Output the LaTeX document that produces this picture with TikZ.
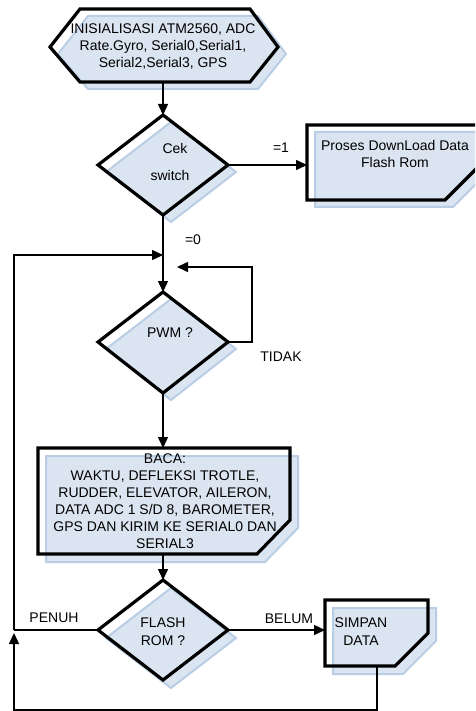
\documentclass[tikz,border=0pt]{standalone}
\usepackage{fontspec}
\setmainfont{Liberation Sans}
\usetikzlibrary{arrows.meta}
\definecolor{boxfill}{HTML}{DBE5F1}
\definecolor{shadowline}{HTML}{B9CDE5}
\begin{document}
\begin{tikzpicture}[x=1pt,y=-1pt,
  outl/.style={draw=black,line width=3.2pt,line join=miter},
  shd/.style={fill=boxfill,draw=shadowline,line width=2pt},
  conn/.style={draw=black,line width=1.5pt},
  arr/.style={conn,-{Triangle[length=11pt,width=10pt]}},
  lbl/.style={font=\fontsize{14}{17}\selectfont,inner sep=0pt,align=center},
]
\useasboundingbox (0,0) rectangle (475,711);
\clip (0,0) rectangle (475,711);
% shadows
\path[shd] (58,54) -- (88,16) -- (258,16) -- (286,54) -- (258,89) -- (88,89) -- cycle;
\path[shd] (106,172) -- (171,122) -- (236,172) -- (171,222) -- cycle;
\path[shd] (315,132) -- (488,132) -- (488,172) -- (453,207) -- (315,207) -- cycle;
\path[shd] (106,349) -- (171,299) -- (236,349) -- (171,400) -- cycle;
\path[shd] (46,456) -- (298,456) -- (298,528) -- (265,562) -- (46,562) -- cycle;
\path[shd] (106,638) -- (171,588) -- (236,638) -- (171,688) -- cycle;
\path[shd] (333,608) -- (436,608) -- (436,641) -- (403,674) -- (333,674) -- cycle;
% outlines
\path[outl] (50,47) -- (80,9) -- (250,9) -- (278,47) -- (250,82) -- (80,82) -- cycle;
\path[outl] (98,165) -- (163,115) -- (228,165) -- (163,215) -- cycle;
\path[outl] (307,125) -- (480,125) -- (480,165) -- (445,200) -- (307,200) -- cycle;
\path[outl] (98,342) -- (163,292) -- (228,342) -- (163,393) -- cycle;
\path[outl] (38,448) -- (290,448) -- (290,520) -- (257,554) -- (38,554) -- cycle;
\path[outl] (98,630) -- (163,580) -- (228,630) -- (163,680) -- cycle;
\path[outl] (325,600) -- (428,600) -- (428,633) -- (395,666) -- (325,666) -- cycle;
% anchor coordinates
\coordinate (hexB) at (163,82);
\coordinate (cekT) at (163,115);
\coordinate (cekR) at (228,165);
\coordinate (cekB) at (163,215);
\coordinate (procL) at (307,165);
\coordinate (pwmT) at (163,292);
\coordinate (pwmR) at (228,342);
\coordinate (pwmB) at (163,393);
\coordinate (bacaT) at (163,448);
\coordinate (bacaB) at (163,554);
\coordinate (flT) at (163,580);
\coordinate (flL) at (98,630);
\coordinate (flR) at (228,630);
\coordinate (simL) at (325,630);
\coordinate (simB) at (377,666);
\coordinate (loopJ) at (14,630);
\coordinate (loopTop) at (14,255);
\coordinate (mainJ) at (163,255);
\coordinate (selfA) at (252,342);
\coordinate (selfB) at (252,267);
\coordinate (selfEnd) at (177,267);
\coordinate (botR) at (377,710);
\coordinate (botL) at (14,710);
\coordinate (upEnd) at (14,633);
% texts
\node[lbl] (hexT) at (163,47) {INISIALISASI ATM2560, ADC\\Rate.Gyro, Serial0,Serial1,\\Serial2,Serial3, GPS};
\node[lbl] (cek1) at (175,148) {Cek};
\node[lbl] (cek2) at (170,175) {switch};
\node[lbl] (procT) at (395,154) {Proses DownLoad Data\\Flash Rom};
\node[lbl] (pwmTx) at (170,333) {PWM ?};
\node[lbl] (bacaTx) at (165,501) {BACA:\\WAKTU, DEFLEKSI TROTLE,\\RUDDER, ELEVATOR, AILERON,\\DATA ADC 1 S/D 8, BAROMETER,\\GPS DAN KIRIM KE SERIAL0 DAN\\SERIAL3};
\node[lbl,font=\fontsize{14}{18}\selectfont] (flTx) at (163,632) {FLASH\\ROM ?};
\node[lbl,font=\fontsize{14}{18}\selectfont] (simTx) at (361,632) {SIMPAN\\DATA};
\node[lbl] (l1) at (281,148) {=1};
\node[lbl] (l0) at (193,240) {=0};
\node[lbl] (ltidak) at (281,357) {TIDAK};
\node[lbl] (lpenuh) at (54,618) {PENUH};
\node[lbl] (lbelum) at (289,619) {BELUM};
% connectors
\draw[arr] (hexB) -- (cekT);
\draw[arr] (cekR) -- (procL);
\draw[arr] (cekB) -- (pwmT);
\draw[arr] (loopJ) -- (loopTop) -- (mainJ);
\draw[arr] (pwmR) -- (selfA) -- (selfB) -- (selfEnd);
\draw[arr] (pwmB) -- (bacaT);
\draw[arr] (bacaB) -- (flT);
\draw[conn] (flL) -- (loopJ);
\draw[arr] (flR) -- (simL);
\draw[arr] (simB) -- (botR) -- (botL) -- (upEnd);
\end{tikzpicture}
\end{document}
